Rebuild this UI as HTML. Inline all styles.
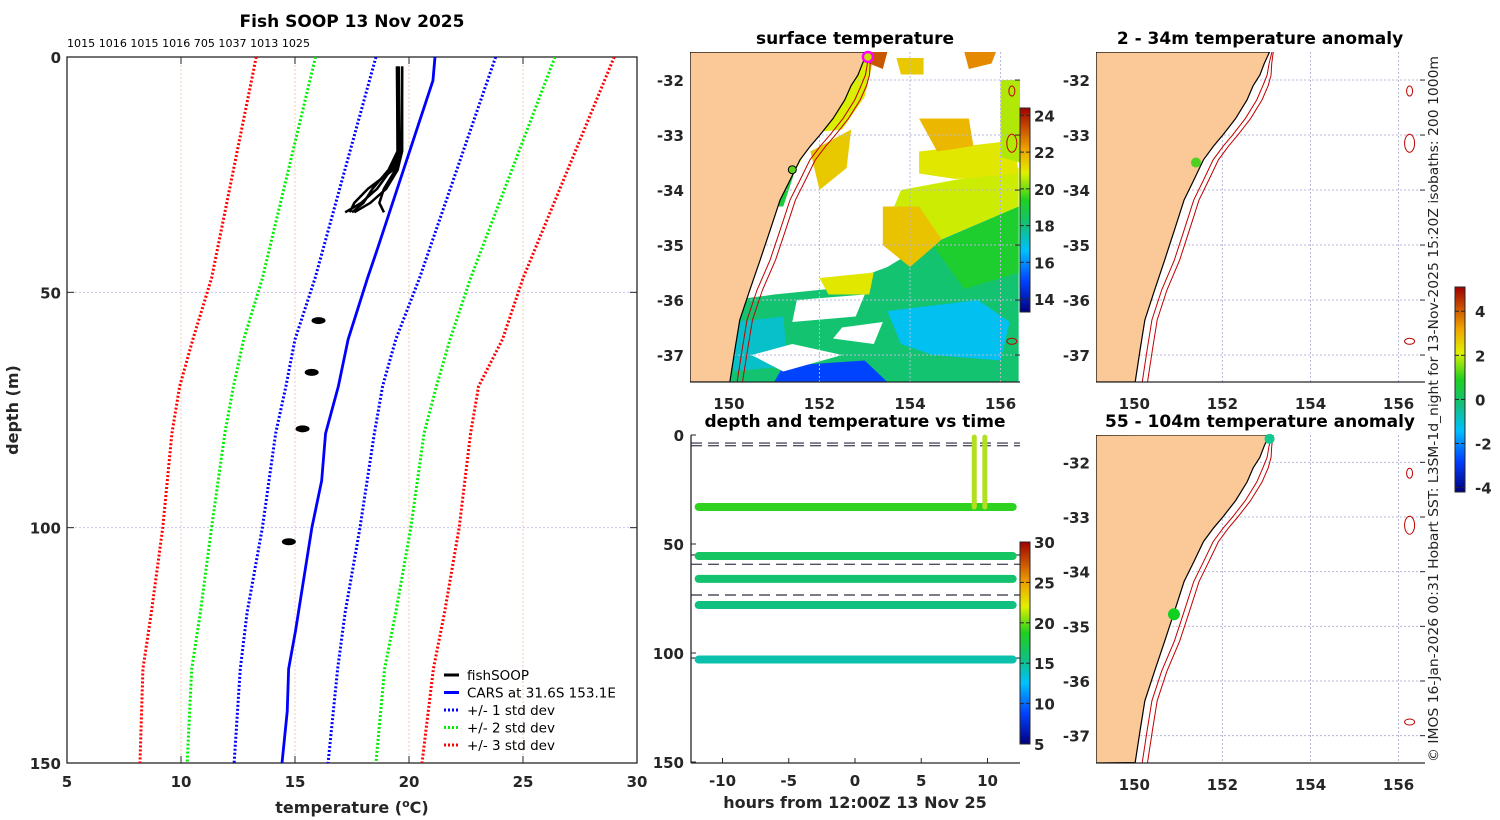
<!DOCTYPE html>
<html><head><meta charset="utf-8"><style>
html,body{margin:0;padding:0;background:#fff;}
svg{display:block;font-family:"DejaVu Sans","Liberation Sans",sans-serif;}
.tk{font-size:15px;font-weight:bold;fill:#262626;}
.ttl{font-size:17px;font-weight:bold;fill:#000;}
</style></head><body>
<svg id="fig" width="1500" height="820" viewBox="0 0 1500 820" xmlns="http://www.w3.org/2000/svg">
<defs>
<linearGradient id="jet" x1="0" y1="1" x2="0" y2="0">
<stop offset="0" stop-color="#00007f"/><stop offset="0.15" stop-color="#0040ff"/><stop offset="0.3" stop-color="#00c0ff"/><stop offset="0.42" stop-color="#10c080"/><stop offset="0.55" stop-color="#20d020"/><stop offset="0.68" stop-color="#e0f000"/><stop offset="0.8" stop-color="#f0a000"/><stop offset="1" stop-color="#a00000"/>
</linearGradient>
<clipPath id="c1"><rect x="690" y="52" width="330" height="330"/></clipPath>
<clipPath id="c2"><rect x="1096" y="52" width="329" height="330"/></clipPath>
<clipPath id="c3"><rect x="1096" y="435" width="329" height="328"/></clipPath>
<clipPath id="c4"><rect x="67" y="57" width="570" height="706"/></clipPath>
</defs>
<g id="left"></g>
<g id="sst"></g>
<g id="time"></g>
<g id="an1"></g>
<g id="an2"></g>
<text transform="translate(1438,762) rotate(-90)" font-size="13" fill="#222" textLength="706" lengthAdjust="spacingAndGlyphs">© IMOS 16-Jan-2026 00:31 Hobart SST: L3SM-1d_night for 13-Nov-2025 15:20Z isobaths: 200  1000m</text>
</svg>
<script>
// ---- profile panel data ----
const carsDepth=[0,5,41,47,60,70,80,90,100,111,122,130,139,150];
const carsTemp=[21.14,21.05,18.6,18.18,17.33,16.9,16.34,16.17,15.74,15.38,15.02,14.72,14.66,14.43];
const sdDepth=[0,47,60,70,80,100,118,130,150];
const minus1=[18.55,15.88,15.0,14.6,14.15,13.57,12.9,12.6,12.33];
const plus1=[23.8,20.46,19.42,18.84,18.48,17.85,17.2,16.87,16.45];
const minus2=[15.9,13.57,12.75,12.3,11.92,11.34,10.85,10.47,10.27];
const plus2=[26.4,22.7,21.8,21.2,20.66,20.08,19.42,18.93,18.55];
const minus3=[13.3,11.34,10.52,9.94,9.6,9.2,8.7,8.33,8.2];
const plus3=[29.0,25.0,24.1,23.05,22.7,22.2,21.56,21.07,20.57];
const fishDepths=[2,20,24,28,31,33];
const fishProfiles=[[19.47,19.5,19.2,18.6,17.9,17.2],[19.55,19.55,19.3,18.2,17.6,17.4],[19.7,19.7,19.5,19.0,18.3,17.6],[19.7,19.65,19.4,18.9,18.7,18.9],[19.5,19.5,19.1,18.4,18.0,17.5]];
const fishBlobDepth=[56,67,79,103];
const fishBlobTemp=[15.9,15.6,15.2,14.6];
const topLabels="1015 1016 1015 1016 705 1037 1013 1025";
const xTicks=[5,10,15,20,25,30];
const yTicks=[0,50,100,150];
// ---- time panel data ----
const bandDepths=[33,55.5,66,78,103];
const bandTemps=[19,16.5,16,15.5,14.5];
const dashDepths=[3.7,4.9,55,59.3,73.4,102.3];
const spikeHours=[9.0,9.8];
const hourTicks=[-10,-5,0,5,10];
const cbTicks=[5,10,15,20,25,30];
// ---- maps ----
const coastLon=[153.07,152.95,152.85,152.7,152.56,152.3,152.01,151.8,151.57,151.35,151.13,150.91,150.69,150.46,150.24,150.13,150.02];
const coastLat=[-31.49,-31.7,-31.91,-32.1,-32.36,-32.7,-33.0,-33.2,-33.45,-33.82,-34.18,-34.73,-35.27,-35.82,-36.36,-36.91,-37.49];
const lonTicks=[150,152,154,156];
const latTicks=[-32,-33,-34,-35,-36,-37];
const sstTicks=[14,16,18,20,22,24];
const anomTicks=[-4,-2,0,2,4];

const NS="http://www.w3.org/2000/svg";
function mk(parent,tag,attrs,txt){const e=document.createElementNS(NS,tag);for(const k in attrs)e.setAttribute(k,attrs[k]);if(txt!==undefined)e.textContent=txt;parent.appendChild(e);return e;}

// ===== Left profile panel =====
(function(){
const g=document.getElementById('left');
const X=t=>67+(t-5)*570/25, Y=d=>57+d*706/150;
let t=mk(g,'text',{x:352,y:27,'text-anchor':'middle','class':'ttl'},'Fish SOOP 13 Nov 2025');


t=mk(g,'text',{x:67,y:47,'font-size':'11',fill:'#000',textLength:'243',lengthAdjust:'spacingAndGlyphs'},topLabels);


xTicks.slice(1,-1).forEach(v=>{mk(g,'line',{x1:X(v),x2:X(v),y1:57,y2:763,stroke:'#f0c8b0','stroke-dasharray':'2,2','stroke-width':1});});
yTicks.slice(1,-1).forEach(v=>{mk(g,'line',{x1:67,x2:637,y1:Y(v),y2:Y(v),stroke:'#c8c8f0','stroke-dasharray':'2,2','stroke-width':1});});
const r=mk(g,'rect',{x:67,y:57,width:570,height:706,fill:'none',stroke:'#262626','stroke-width':1.3});


xTicks.forEach(v=>{mk(g,'line',{x1:X(v),x2:X(v),y1:57,y2:64,stroke:'#262626'});mk(g,'line',{x1:X(v),x2:X(v),y1:763,y2:756,stroke:'#262626'});
 const l=mk(g,'text',{x:X(v),y:787,'text-anchor':'middle','class':'tk'},String(v));
 
 });
yTicks.forEach(v=>{mk(g,'line',{x1:67,x2:74,y1:Y(v),y2:Y(v),stroke:'#262626'});mk(g,'line',{x1:637,x2:630,y1:Y(v),y2:Y(v),stroke:'#262626'});
 const l=mk(g,'text',{x:61,y:Y(v)+6,'text-anchor':'end','class':'tk'},String(v));
 
 });
t=mk(g,'text',{x:352,y:813,'text-anchor':'middle','font-size':'16','font-weight':'bold',fill:'#262626'});
t.innerHTML='temperature (<tspan dy="-6" font-size="11">o</tspan><tspan dy="6">C)</tspan>';


t=mk(g,'text',{x:0,y:0,transform:'translate(18,410) rotate(-90)','text-anchor':'middle','font-size':'16','font-weight':'bold',fill:'#262626'},'depth (m)');


const pc=mk(g,'g',{'clip-path':'url(#c4)'});
function line(depths,temps,col,dash,w,name){const p=mk(pc,'polyline',{points:depths.map((d,i)=>X(temps[i])+','+Y(d)).join(' '),fill:'none',stroke:col,'stroke-width':w});if(dash)p.setAttribute('stroke-dasharray',dash);
 
 }
line(sdDepth,minus3,'#ff0000','2,2',3,'minus-3-std-line');line(sdDepth,plus3,'#ff0000','2,2',3,'plus-3-std-line');
line(sdDepth,minus2,'#00ee00','2,2',3,'minus-2-std-line');line(sdDepth,plus2,'#00ee00','2,2',3,'plus-2-std-line');
line(sdDepth,minus1,'#0000ff','2,2',3,'minus-1-std-line');line(sdDepth,plus1,'#0000ff','2,2',3,'plus-1-std-line');
line(carsDepth,carsTemp,'#0000ff',null,2.8,'cars-line');
fishProfiles.forEach(p=>line(fishDepths,p,'#000',null,2.5,'fishsoop-profile'));
fishBlobDepth.forEach((d,i)=>{const e=mk(pc,'ellipse',{cx:X(fishBlobTemp[i])+3,cy:Y(d),rx:7,ry:3.5,fill:'#000'});
 
 });
const lg=mk(g,'g',{});


const items=[['fishSOOP','#000',null],['CARS at 31.6S 153.1E','#0000ff',null],['+/- 1 std dev','#0000ff','2,2'],['+/- 2 std dev','#00ee00','2,2'],['+/- 3 std dev','#ff0000','2,2']];
items.forEach((it,i)=>{const y=675+i*17.5;const l=mk(lg,'line',{x1:444,x2:459,y1:y,y2:y,stroke:it[1],'stroke-width':3});if(it[2])l.setAttribute('stroke-dasharray',it[2]);
 const tx=mk(lg,'text',{x:467,y:y+5,'font-size':'13.5',fill:'#000'},it[0]);
 
 });
})();

// ===== map helpers =====
function jetColor(f){f=Math.max(0,Math.min(1,f));const s=[[0,[0,0,127]],[0.15,[0,64,255]],[0.3,[0,192,255]],[0.42,[16,192,128]],[0.55,[32,208,32]],[0.68,[224,240,0]],[0.8,[240,160,0]],[1,[160,0,0]]];
 for(let i=1;i<s.length;i++){if(f<=s[i][0]){const a=s[i-1],b=s[i],u=(f-a[0])/(b[0]-a[0]);return 'rgb('+a[1].map((c,k)=>Math.round(c+(b[1][k]-c)*u)).join(',')+')';}}return 'rgb(160,0,0)';}
function drawMap(g,x0,y0,w,h,lon0,lon1,lat0,lat1,clip,drawData,name){
 const X=lo=>x0+(lo-lon0)*w/(lon1-lon0), Y=la=>y0+(lat0-la)*h/(lat0-lat1);
 const c=mk(g,'g',{'clip-path':'url(#'+clip+')'});
 if(drawData)drawData(c,X,Y);
 lonTicks.forEach(v=>mk(c,'line',{x1:X(v),x2:X(v),y1:y0,y2:y0+h,stroke:'#b8b8d8','stroke-dasharray':'2,2'}));
 latTicks.forEach(v=>mk(c,'line',{x1:x0,x2:x0+w,y1:Y(v),y2:Y(v),stroke:'#b8b8d8','stroke-dasharray':'2,2'}));
 const pts=coastLon.map((lo,i)=>X(lo)+','+Y(coastLat[i]));
 const land=mk(c,'polygon',{points:x0+','+y0+' '+pts.join(' ')+' '+x0+','+(y0+h),fill:'#fbc897',stroke:'#000','stroke-width':1.2});
 
 
 [0.22,0.34].forEach((off,k)=>{const p=mk(c,'polyline',{points:coastLon.map((lo,i)=>X(lo+off*Math.min(1,0.25+i*0.25)-(i>12?0.06:0))+','+Y(coastLat[i])).join(' '),fill:'none',stroke:'#c00000','stroke-width':1});
  
  });
 [[156.25,-32.2,3,5],[156.25,-33.15,5,9],[156.25,-36.75,5,3]].forEach(s=>mk(c,'ellipse',{cx:X(s[0]),cy:Y(s[1]),rx:s[2],ry:s[3],fill:'none',stroke:'#c00000','stroke-width':1}));
 mk(g,'line',{x1:x0,x2:x0+w,y1:y0+h,y2:y0+h,stroke:'#262626','stroke-width':1.3});
 lonTicks.forEach(v=>{const l=mk(g,'text',{x:X(v),y:y0+h+27,'text-anchor':'middle','class':'tk'},String(v));
  
  });
 latTicks.forEach(v=>{mk(g,'line',{x1:x0+w,x2:x0+w-5,y1:Y(v),y2:Y(v),stroke:'#262626'});
  const l=mk(g,'text',{x:x0-6,y:Y(v)+6,'text-anchor':'end','class':'tk'},String(v));
  
  });
 return {X,Y};
}
function colorbar(g,x,y,h,lo,hi,ticks,name){
 const r=mk(g,'rect',{x:x,y:y,width:10,height:h,fill:'url(#jet)',stroke:'#262626','stroke-width':1});
 
 
 ticks.forEach(v=>{const yy=y+h-(v-lo)/(hi-lo)*h;mk(g,'line',{x1:x,x2:x+4,y1:yy,y2:yy,stroke:'#262626'});mk(g,'line',{x1:x+10,x2:x+6,y1:yy,y2:yy,stroke:'#262626'});
  const l=mk(g,'text',{x:x+(lo<0?20:14),y:yy+6,'class':'tk','font-size':lo<0?'13':'15'},String(v));
  
  });
}

// ===== SST map =====
(function(){
const g=document.getElementById('sst');
let t=mk(g,'text',{x:855,y:44,'text-anchor':'middle','class':'ttl'},'surface temperature');


const sstLo=13.3,sstHi=24.4;
const C=v=>jetColor((v-sstLo)/(sstHi-sstLo));
const patches=[
 [18.2,[[150.1,-36.0],[151.0,-35.9],[152.2,-35.8],[153.5,-35.4],[154.5,-34.9],[156.4,-34.3],[156.4,-37.49],[150.0,-37.49]]],
 [16.8,[[153.5,-36.2],[155.5,-36.0],[156.2,-36.4],[156.0,-37.1],[154.5,-37.0],[153.8,-36.8]]],
 [17.2,[[150.1,-36.4],[151.2,-36.3],[151.3,-37.2],[150.1,-37.3]]],
 [15.0,[[151.2,-37.2],[153.0,-37.1],[153.5,-37.49],[151.0,-37.49]]],
 [19.2,[[154.5,-35.0],[156.4,-34.3],[156.4,-35.5],[155.2,-35.8]]],
 [20.7,[[153.8,-34.0],[156.4,-33.6],[156.4,-34.3],[154.7,-34.9],[153.8,-35.0],[153.5,-34.6]]],
 [21.6,[[153.4,-34.3],[154.2,-34.3],[154.7,-34.9],[154.0,-35.4],[153.4,-35.0]]],
 [21.0,[[154.2,-33.3],[156.3,-33.1],[156.4,-33.7],[155.0,-33.8],[154.2,-33.7]]],
 [21.8,[[154.2,-32.7],[155.3,-32.7],[155.4,-33.2],[154.6,-33.3]]],
 [20.8,[[151.3,-33.0],[152.5,-32.9],[153.0,-32.3],[153.2,-31.6],[152.9,-31.6],[151.7,-33.3],[151.3,-33.9],[151.1,-34.1]]],
 [21.5,[[151.8,-33.3],[152.7,-32.9],[152.6,-33.6],[152.0,-34.0]]],
 [23.2,[[153.1,-31.49],[153.5,-31.49],[153.4,-31.8],[153.1,-31.7]]],
 [22.5,[[155.2,-31.49],[155.9,-31.49],[155.8,-31.7],[155.3,-31.8]]],
 [21.5,[[153.7,-31.6],[154.3,-31.6],[154.3,-31.9],[153.8,-31.9]]],
 [19.0,[[151.1,-33.5],[151.6,-33.3],[151.2,-34.3],[150.9,-34.3]]],
 [21.0,[[152.0,-35.6],[153.2,-35.5],[153.1,-35.9],[152.2,-35.9]]],
 [20.5,[[156.0,-32.0],[156.43,-32.0],[156.43,-33.5],[156.0,-33.4]]]
];
drawMap(g,690,52,330,330,149.14,156.43,-31.49,-37.49,'c1',(c,X,Y)=>{
 patches.forEach(p=>{const e=mk(c,'polygon',{points:p[1].map(q=>X(q[0])+','+Y(q[1])).join(' '),fill:C(p[0])});
  
  });
 [[[151.5,-36.0],[153.0,-35.9],[152.8,-36.3],[151.4,-36.4]],[[150.5,-37.0],[151.4,-36.8],[152.5,-37.0],[151.2,-37.3]],[[152.5,-36.5],[153.4,-36.4],[153.2,-36.8],[152.3,-36.7]]].forEach(p=>mk(c,'polygon',{points:p.map(q=>X(q[0])+','+Y(q[1])).join(' '),fill:'#fff'}));
},'sst-map');
const mX=lo=>690+(lo-149.14)*330/7.29, mY=la=>52+(-31.49-la)*55;
let m=mk(g,'circle',{cx:mX(153.07),cy:mY(-31.58),r:5,fill:'#c8e000',stroke:'#ff00ff','stroke-width':2.5});


m=mk(g,'circle',{cx:mX(151.4),cy:mY(-33.63),r:4,fill:'#60d020',stroke:'#000','stroke-width':1});


colorbar(g,1020,108,204,13.3,24.4,sstTicks,'sst-colorbar');
})();

// ===== depth-time panel =====
(function(){
const g=document.getElementById('time');
const X=h=>855+h*13.25, Y=d=>435+d*327/150;
let t=mk(g,'text',{x:855,y:427,'text-anchor':'middle','class':'ttl'},'depth and temperature vs time');


dashDepths.forEach(d=>{const l=mk(g,'line',{x1:691,x2:1020,y1:Y(d),y2:Y(d),stroke:'#505060','stroke-width':1.4,'stroke-dasharray':'11,6'});
 
 });
bandDepths.forEach((d,i)=>{const l=mk(g,'line',{x1:X(-11.8),x2:X(11.9),y1:Y(d),y2:Y(d),stroke:jetColor((bandTemps[i]-5)/25),'stroke-width':8,'stroke-linecap':'round'});
 
 });
spikeHours.forEach(hh=>{const l=mk(g,'line',{x1:X(hh),x2:X(hh),y1:Y(1),y2:Y(33),stroke:'#b0e020','stroke-width':5,'stroke-linecap':'round'});
 
 });
mk(g,'line',{x1:691,x2:691,y1:435,y2:763,stroke:'#262626','stroke-width':1.3});
mk(g,'line',{x1:691,x2:1020,y1:763,y2:763,stroke:'#262626','stroke-width':1.3});
hourTicks.forEach(v=>{mk(g,'line',{x1:X(v),x2:X(v),y1:763,y2:758,stroke:'#262626'});
 const l=mk(g,'text',{x:X(v),y:786,'text-anchor':'middle','class':'tk'},String(v));
 
 });
yTicks.forEach(v=>{mk(g,'line',{x1:691,x2:696,y1:Y(v),y2:Y(v),stroke:'#262626'});
 const l=mk(g,'text',{x:684,y:Y(v)+6,'text-anchor':'end','class':'tk'},String(v));
 
 });
t=mk(g,'text',{x:855,y:808,'text-anchor':'middle','font-size':'16','font-weight':'bold',fill:'#262626'},'hours from 12:00Z 13 Nov 25');


colorbar(g,1020,542,202,5,30,cbTicks,'time-colorbar');
})();

// ===== anomaly maps =====
(function(){
const g1=document.getElementById('an1');
let t=mk(g1,'text',{x:1260,y:44,'text-anchor':'middle','class':'ttl'},'2 - 34m temperature anomaly');


const m1=drawMap(g1,1096,52,329,330,149.13,156.6,-31.49,-37.49,'c2',null,'anom1');
let m=mk(g1,'circle',{cx:m1.X(151.4),cy:m1.Y(-33.5),r:5,fill:'#50d020'});


const g2=document.getElementById('an2');
t=mk(g2,'text',{x:1260,y:427,'text-anchor':'middle','class':'ttl'},'55 - 104m temperature anomaly');


const m2=drawMap(g2,1096,435,329,328,149.13,156.6,-31.5,-37.5,'c3',null,'anom2');
m=mk(g2,'circle',{cx:m2.X(153.07),cy:m2.Y(-31.57),r:5,fill:'#10c890'});


m=mk(g2,'circle',{cx:m2.X(150.9),cy:m2.Y(-34.78),r:6,fill:'#10d020'});


colorbar(g1,1455,287,205,-4.2,5.1,anomTicks,'anomaly-colorbar');
})();
</script>
</body></html>
